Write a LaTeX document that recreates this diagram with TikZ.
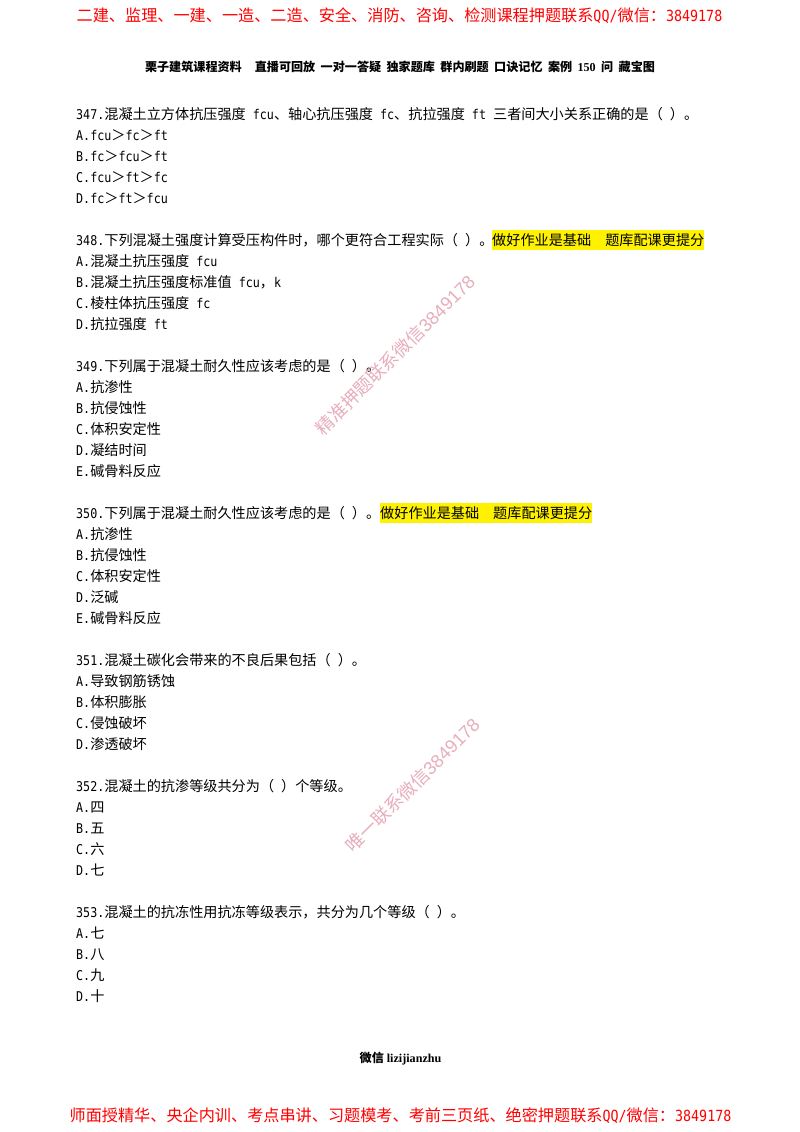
\documentclass[tikz,border=0pt]{standalone}
\usepackage{fontspec}
\setmainfont[Scale=0.95,FakeStretch=0.87]{DejaVu Sans Mono}
\newfontfamily\cjk{Noto Sans CJK SC}
\newfontfamily\serifb{Liberation Serif}
\newfontfamily\wmark{Liberation Sans}
\newcommand{\z}[1]{{\cjk #1}}
\newcommand{\gp}{\hspace{5.4pt}}
\usetikzlibrary{positioning}
\definecolor{wmpink}{RGB}{232,174,188}
\tikzstyle{line}=[anchor=base west,inner sep=0pt,font=\fontsize{14.15}{16}\selectfont,text=black]
\tikzstyle{hilite}=[line,fill=yellow,text height=15pt,text depth=5pt]
\tikzstyle{banner}=[anchor=base,inner sep=0pt,font=\fontsize{16.15}{18}\selectfont,text=red]
\tikzstyle{subhead}=[anchor=base,inner sep=0pt,font=\fontsize{12.1}{14}\selectfont\bfseries,text=black]
\tikzstyle{stamp}=[inner sep=0pt,rotate=45,font=\fontsize{18.2}{20}\selectfont,text=wmpink]
\begin{document}
\begin{tikzpicture}[x=1pt,y=-1pt]
\useasboundingbox[fill=white] (0,0) rectangle (800,1132);
\node[banner] (top) at (399.5,22) {\z{二建、监理、一建、一造、二造、安全、消防、咨询、检测课程押题联系}QQ/\z{微信：}3849178};
\node[subhead] (sub) at (400,71) {\cjk 栗子建筑课程资料\hspace{13pt}直播可回放\gp 一对一答疑\gp 独家题库\gp 群内刷题\gp 口诀记忆\gp 案例\gp{\serifb 150}\gp 问\gp 藏宝图};
%question 347
\node[line] (q347) at (76,119) {347.\z{混凝土立方体抗压强度} fcu\z{、轴心抗压强度} fc\z{、抗拉强度} ft \z{三者间大小关系正确的是（} \z{）。}};
\node[line] (q347a) at (76,140) {A.fcu\z{＞}fc\z{＞}ft};
\node[line] (q347b) at (76,161) {B.fc\z{＞}fcu\z{＞}ft};
\node[line] (q347c) at (76,182) {C.fcu\z{＞}ft\z{＞}fc};
\node[line] (q347d) at (76,203) {D.fc\z{＞}ft\z{＞}fcu};
%question 348
\node[line] (q348) at (76,245) {348.\z{下列混凝土强度计算受压构件时，哪个更符合工程实际（} \z{）。}};
\node[hilite] (h348) at (492,245) {\z{做好作业是基础}\hspace{14pt}\z{题库配课更提分}};
\node[line] (q348a) at (76,266) {A.\z{混凝土抗压强度} fcu};
\node[line] (q348b) at (76,287) {B.\z{混凝土抗压强度标准值} fcu\z{，}k};
\node[line] (q348c) at (76,308) {C.\z{棱柱体抗压强度} fc};
\node[line] (q348d) at (76,329) {D.\z{抗拉强度} ft};
%question 349
\node[line] (q349) at (76,371) {349.\z{下列属于混凝土耐久性应该考虑的是（} \z{）。}};
\node[line] (q349a) at (76,392) {A.\z{抗渗性}};
\node[line] (q349b) at (76,413) {B.\z{抗侵蚀性}};
\node[line] (q349c) at (76,434) {C.\z{体积安定性}};
\node[line] (q349d) at (76,455) {D.\z{凝结时间}};
\node[line] (q349e) at (76,476) {E.\z{碱骨料反应}};
%question 350
\node[line] (q350) at (76,518) {350.\z{下列属于混凝土耐久性应该考虑的是（} \z{）。}};
\node[hilite] (h350) at (380,518) {\z{做好作业是基础}\hspace{14pt}\z{题库配课更提分}};
\node[line] (q350a) at (76,539) {A.\z{抗渗性}};
\node[line] (q350b) at (76,560) {B.\z{抗侵蚀性}};
\node[line] (q350c) at (76,581) {C.\z{体积安定性}};
\node[line] (q350d) at (76,602) {D.\z{泛碱}};
\node[line] (q350e) at (76,623) {E.\z{碱骨料反应}};
%question 351
\node[line] (q351) at (76,665) {351.\z{混凝土碳化会带来的不良后果包括（} \z{）。}};
\node[line] (q351a) at (76,686) {A.\z{导致钢筋锈蚀}};
\node[line] (q351b) at (76,707) {B.\z{体积膨胀}};
\node[line] (q351c) at (76,728) {C.\z{侵蚀破坏}};
\node[line] (q351d) at (76,749) {D.\z{渗透破坏}};
%question 352
\node[line] (q352) at (76,791) {352.\z{混凝土的抗渗等级共分为（} \z{）个等级。}};
\node[line] (q352a) at (76,812) {A.\z{四}};
\node[line] (q352b) at (76,833) {B.\z{五}};
\node[line] (q352c) at (76,854) {C.\z{六}};
\node[line] (q352d) at (76,875) {D.\z{七}};
%question 353
\node[line] (q353) at (76,917) {353.\z{混凝土的抗冻性用抗冻等级表示，共分为几个等级（} \z{）。}};
\node[line] (q353a) at (76,938) {A.\z{七}};
\node[line] (q353b) at (76,959) {B.\z{八}};
\node[line] (q353c) at (76,980) {C.\z{九}};
\node[line] (q353d) at (76,1001) {D.\z{十}};
%footer
\node[subhead] (foot) at (400.5,1062) {\cjk 微信\hspace{3pt}{\serifb lizijianzhu}};
\node[banner] (bottom) at (400.5,1121) {\z{师面授精华、央企内训、考点串讲、习题模考、考前三页纸、绝密押题联系}QQ/\z{微信：}3849178};
%watermarks
\node[stamp] (stamp1) at (395,355) {\cjk 精准押题联系微信{\wmark 3849178}};
\node[stamp] (stamp2) at (412.5,785) {\cjk 唯一联系微信{\wmark 3849178}};
\end{tikzpicture}
\end{document}
